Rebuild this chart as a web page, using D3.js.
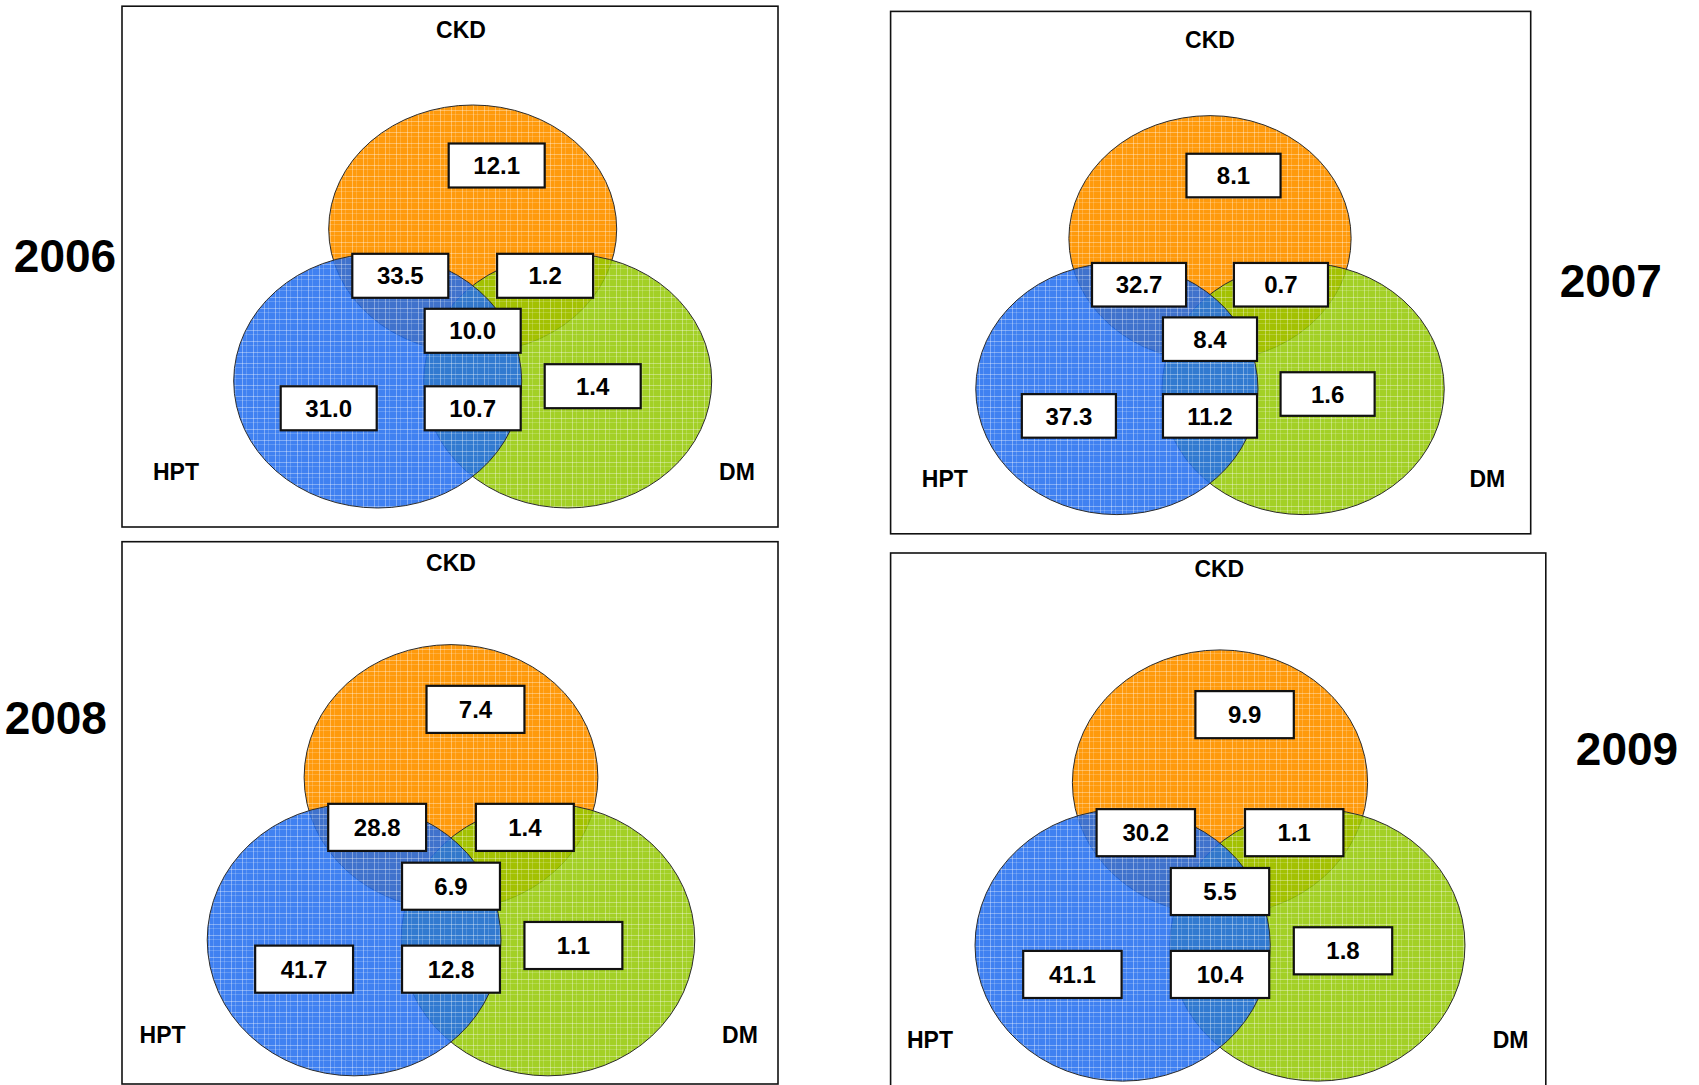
<!DOCTYPE html>
<html><head><meta charset="utf-8">
<script src="https://cdn.jsdelivr.net/npm/d3@7"></script>
<style>html,body{margin:0;padding:0;background:#fff;overflow:hidden}svg{display:block}</style>
</head><body>
<script>
// ---- data ----
const years = ["2006", "2007", "2008", "2009"];
const setNames = ["CKD", "HPT", "DM"];
const regionNames = ["CKD only", "CKD∩HPT", "CKD∩DM", "CKD∩HPT∩DM", "DM only", "HPT only", "HPT∩DM"];
const values2006 = [12.1, 33.5, 1.2, 10.0, 1.4, 31.0, 10.7];
const values2007 = [8.1, 32.7, 0.7, 8.4, 1.6, 37.3, 11.2];
const values2008 = [7.4, 28.8, 1.4, 6.9, 1.1, 41.7, 12.8];
const values2009 = [9.9, 30.2, 1.1, 5.5, 1.8, 41.1, 10.4];
const valuesByYear = [values2006, values2007, values2008, values2009];

// ---- layout ----
const W = 1699, H = 1085;
const FONT = "'Liberation Sans', Arial, Helvetica, sans-serif";
const panelLayout = [
  {box:[122,6.2,778,527], cx:472.7, cy:229, sx:1, sy:1, ckd:[461,30], hpt:[176,472], dm:[737,472], year:[65,255.5]},
  {box:[890.6,11.4,1530.7,533.8], cx:1210, cy:238.4, sx:0.98, sy:0.99, ckd:[1210,39.6], hpt:[944.8,478.7], dm:[1487.3,478.7], year:[1610.8,280.7]},
  {box:[122,541.7,778,1084], cx:451, cy:777.3, sx:1.02, sy:1.07, ckd:[451,563], hpt:[162.6,1034.5], dm:[740,1034.5], year:[55.8,717.6]},
  {box:[890.6,553,1545.8,1095], cx:1220, cy:782.6, sx:1.025, sy:1.07, ckd:[1219.3,569], hpt:[930,1039.8], dm:[1510.6,1039.8], year:[1627,748.8]}
];
const ellipseTemplate = [
  {set:"CKD", dx:0, dy:0, rx:144, ry:124, pat:"pOrange", op:1},
  {set:"DM", dx:95, dy:152, rx:144, ry:127, pat:"pGreen", op:0.85},
  {set:"HPT", dx:-95, dy:152, rx:144, ry:127, pat:"pBlue", op:0.85}
];
const boxTemplate = [[24,-63.5],[-72.4,46.8],[72.4,46.8],[0,101.8],[120,157.2],[-144,179.3],[0,179.3]];
const BOX_W = 96, BOX_H = 44;

const svg = d3.select("body").append("svg").attr("width", W).attr("height", H);
svg.append("rect").attr("width", W).attr("height", H).attr("fill", "#fff");

const defs = svg.append("defs");
function makePattern(id, base) {
  const p = defs.append("pattern").attr("id", id).attr("patternUnits", "userSpaceOnUse")
    .attr("width", 11).attr("height", 11);
  p.append("rect").attr("width", 11).attr("height", 11).attr("fill", base);
  p.append("rect").attr("x",0).attr("y",0).attr("width",11).attr("height",1).attr("fill","#fff").attr("opacity",0.35);
  p.append("rect").attr("x",0).attr("y",4).attr("width",11).attr("height",1).attr("fill","#fff").attr("opacity",0.18);
  p.append("rect").attr("x",0).attr("y",0).attr("width",1).attr("height",11).attr("fill","#fff").attr("opacity",0.35);
  p.append("rect").attr("x",4).attr("y",0).attr("width",1).attr("height",11).attr("fill","#fff").attr("opacity",0.18);
}
makePattern("pOrange", "#FF9A0C");
makePattern("pBlue", "#1E6BEE");
makePattern("pGreen", "#93C800");

const fmt = d3.format(".1f");

panelLayout.forEach((L, i) => {
  const x = d3.scaleLinear().domain([0, 1]).range([L.cx, L.cx + L.sx]);
  const y = d3.scaleLinear().domain([0, 1]).range([L.cy, L.cy + L.sy]);
  const g = svg.append("g");

  g.append("rect")
    .attr("x", L.box[0]).attr("y", L.box[1])
    .attr("width", L.box[2] - L.box[0]).attr("height", L.box[3] - L.box[1])
    .attr("fill", "none").attr("stroke", "#111").attr("stroke-width", 1.6);

  g.selectAll("ellipse").data(ellipseTemplate).join("ellipse")
    .attr("cx", d => x(d.dx)).attr("cy", d => y(d.dy))
    .attr("rx", d => x(d.rx) - x(0)).attr("ry", d => y(d.ry) - y(0))
    .attr("fill", d => `url(#${d.pat})`).attr("fill-opacity", d => d.op)
    .attr("stroke", "#2b2b2b").attr("stroke-width", 1);

  const labels = [
    {t: setNames[0], p: L.ckd}, {t: setNames[1], p: L.hpt}, {t: setNames[2], p: L.dm}
  ];
  g.selectAll("text.set").data(labels).join("text").attr("class", "set")
    .attr("x", d => d.p[0]).attr("y", d => d.p[1] + 8.2)
    .attr("text-anchor", "middle").attr("font-family", FONT)
    .attr("font-weight", "bold").attr("font-size", 23).attr("fill", "#000")
    .text(d => d.t);

  g.append("text")
    .attr("x", L.year[0]).attr("y", L.year[1] + 16.5)
    .attr("text-anchor", "middle").attr("font-family", FONT)
    .attr("font-weight", "bold").attr("font-size", 46).attr("fill", "#000")
    .text(years[i]);

  const data = valuesByYear[i].map((v, j) => ({v, name: regionNames[j], pos: boxTemplate[j]}));
  const bw = x(BOX_W) - x(0), bh = y(BOX_H) - y(0);
  const bg = g.selectAll("g.box").data(data).join("g").attr("class", "box");
  bg.append("rect")
    .attr("x", d => x(d.pos[0]) - bw / 2).attr("y", d => y(d.pos[1]) - bh / 2)
    .attr("width", bw).attr("height", bh)
    .attr("fill", "#fff").attr("stroke", "#111").attr("stroke-width", 2.2);
  bg.append("text")
    .attr("x", d => x(d.pos[0])).attr("y", d => y(d.pos[1]) + 8.6)
    .attr("text-anchor", "middle").attr("font-family", FONT)
    .attr("font-weight", "bold").attr("font-size", 24).attr("fill", "#000")
    .text(d => fmt(d.v));
});
</script>
</body></html>
